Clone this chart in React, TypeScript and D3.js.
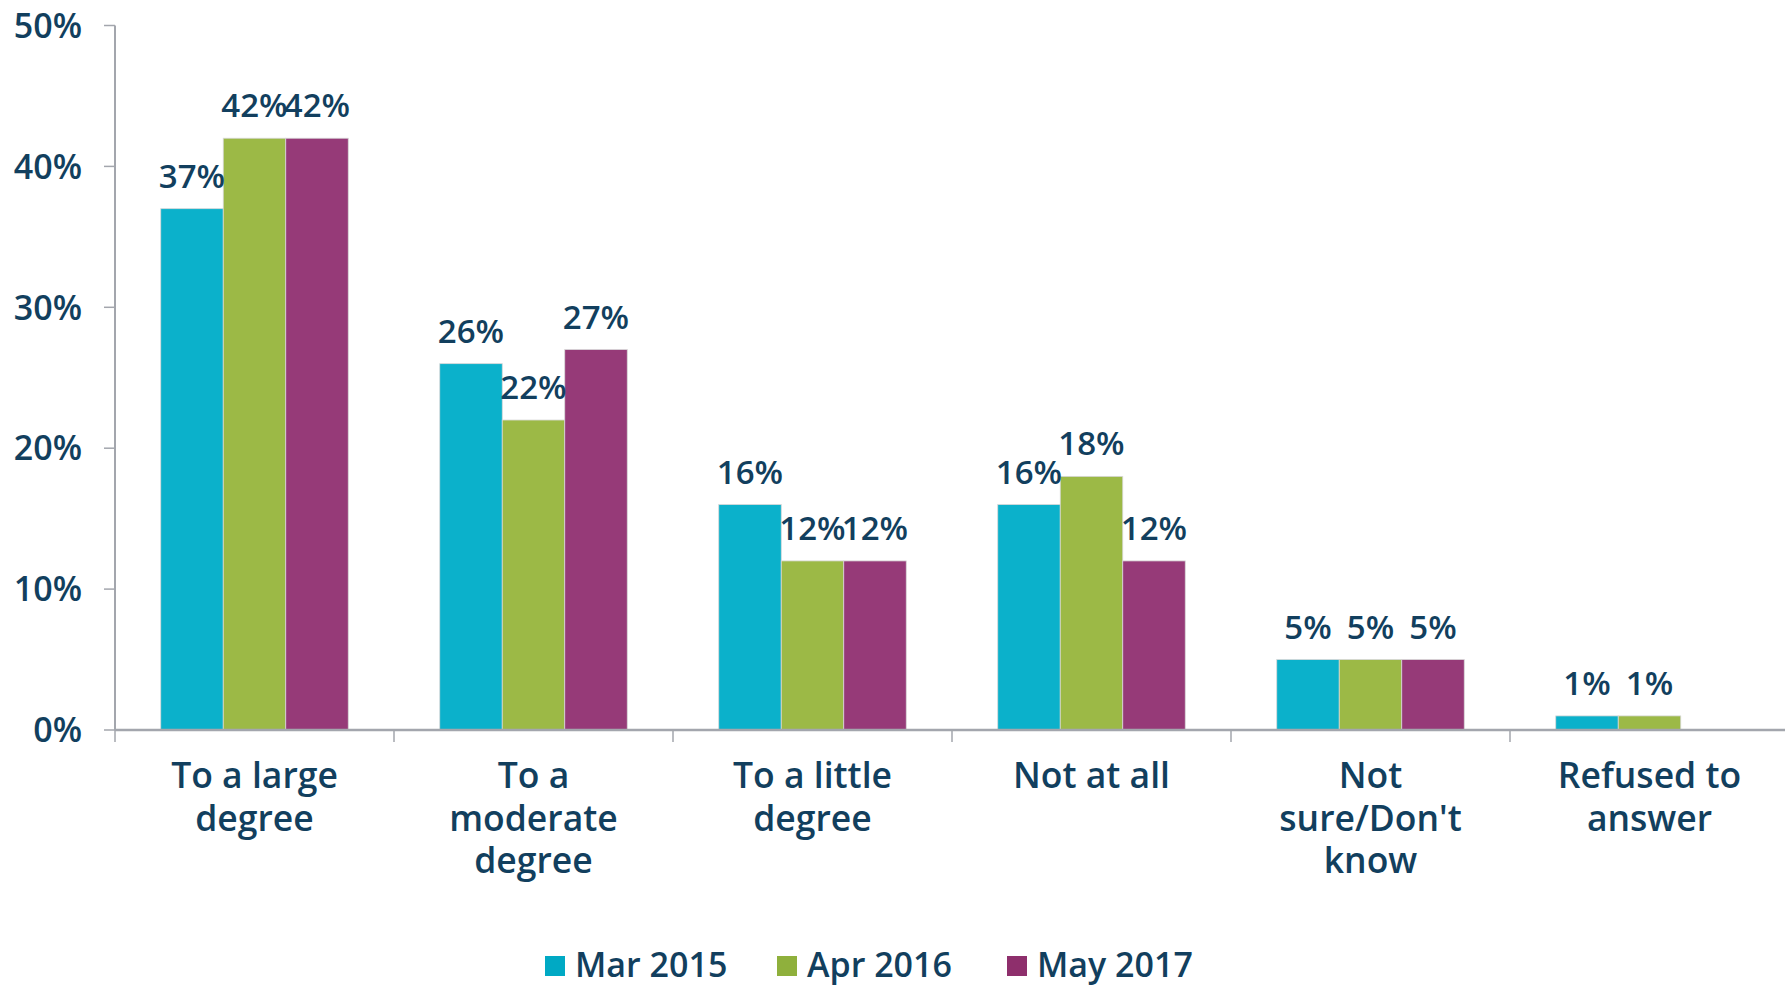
import React from "react";
import * as d3 from "d3";

const categories = [
  ["To a large", "degree"],
  ["To a", "moderate", "degree"],
  ["To a little", "degree"],
  ["Not at all"],
  ["Not", "sure/Don't", "know"],
  ["Refused to", "answer"],
];
const seriesNames = ["Mar 2015", "Apr 2016", "May 2017"];
const mar2015 = [37, 26, 16, 16, 5, 1];
const apr2016 = [42, 22, 12, 18, 5, 1];
const may2017 = [42, 27, 12, 12, 5, null];
const yTicks = [0, 10, 20, 30, 40, 50];
const colors = ["#0bb1cb", "#9cb946", "#963a78"];
const legendColors = ["#00a9c4", "#8fb03c", "#8e2f6c"];

const W = 1785;
const H = 987;
const TEXT = "#123f5e";
const FONT = "'Open Sans', 'DejaVu Sans', sans-serif";

export default function App() {
  const seriesValues = [mar2015, apr2016, may2017];
  const left = 115;
  const band = 279;
  const x0 = d3
    .scaleBand<number>()
    .domain(categories.map((_, i) => i))
    .range([left, left + band * categories.length])
    .paddingInner(0)
    .paddingOuter(0);
  const x1 = d3
    .scaleBand<number>()
    .domain(seriesNames.map((_, i) => i))
    .range([0, x0.bandwidth()])
    .paddingInner(0)
    .paddingOuter(0.732);
  const y = d3.scaleLinear().domain([0, 50]).range([730, 25.5]);
  const legendX = [545, 777, 1007];

  return (
    <svg
      width={W}
      height={H}
      style={{ position: "absolute", left: 0, top: 0, background: "#fff" }}
    >
      {/* bars */}
      {seriesValues.map((vals, s) =>
        vals.map((v, i) =>
          v == null ? null : (
            <rect
              key={`b${s}-${i}`}
              x={(x0(i) as number) + (x1(s) as number)}
              y={y(v)}
              width={x1.bandwidth()}
              height={y(0) - y(v)}
              fill={colors[s]}
              stroke="#d8d8d8"
              strokeWidth={0.8}
            />
          )
        )
      )}
      {/* axes */}
      <line x1={left} x2={left} y1={y(50)} y2={y(0)} stroke="#a3a6ad" strokeWidth={2} />
      <line x1={left} x2={W} y1={y(0)} y2={y(0)} stroke="#a3a6ad" strokeWidth={2.5} />
      {yTicks.map((t) => (
        <g key={`yt${t}`}>
          <line x1={104} x2={left} y1={y(t)} y2={y(t)} stroke="#a3a6ad" strokeWidth={1.5} />
          <text
            x={82}
            y={y(t)}
            dy="0.36em"
            textAnchor="end"
            fontFamily={FONT}
            fontWeight={600}
            fontSize={34}
            fill={TEXT}
          >
            {t}%
          </text>
        </g>
      ))}
      {categories.map((_, i) => (
        <line
          key={`xt${i}`}
          x1={x0(i) as number}
          x2={x0(i) as number}
          y1={y(0)}
          y2={y(0) + 12}
          stroke="#a3a6ad"
          strokeWidth={1.5}
        />
      ))}
      {/* category labels */}
      {categories.map((lines, i) => (
        <text
          key={`cl${i}`}
          textAnchor="middle"
          fontFamily={FONT}
          fontWeight={600}
          fontSize={35.5}
          fill={TEXT}
        >
          {lines.map((ln, j) => (
            <tspan key={j} x={(x0(i) as number) + x0.bandwidth() / 2} y={788 + j * 42.5}>
              {ln}
            </tspan>
          ))}
        </text>
      ))}
      {/* data labels */}
      {seriesValues.map((vals, s) =>
        vals.map((v, i) =>
          v == null ? null : (
            <text
              key={`dl${s}-${i}`}
              x={(x0(i) as number) + (x1(s) as number) + x1.bandwidth() / 2}
              y={y(v) - 21}
              textAnchor="middle"
              fontFamily={FONT}
              fontWeight={600}
              fontSize={33}
              fill={TEXT}
            >
              {v}%
            </text>
          )
        )
      )}
      {/* legend */}
      {seriesNames.map((name, s) => {
        const lx = legendX[s];
        return (
          <g key={`lg${s}`}>
            <rect x={lx} y={956} width={20} height={20} fill={legendColors[s]} />
            <text
              x={lx + 30}
              y={977}
              fontFamily={FONT}
              fontWeight={600}
              fontSize={34}
              fill={TEXT}
            >
              {name}
            </text>
          </g>
        );
      })}
    </svg>
  );
}
